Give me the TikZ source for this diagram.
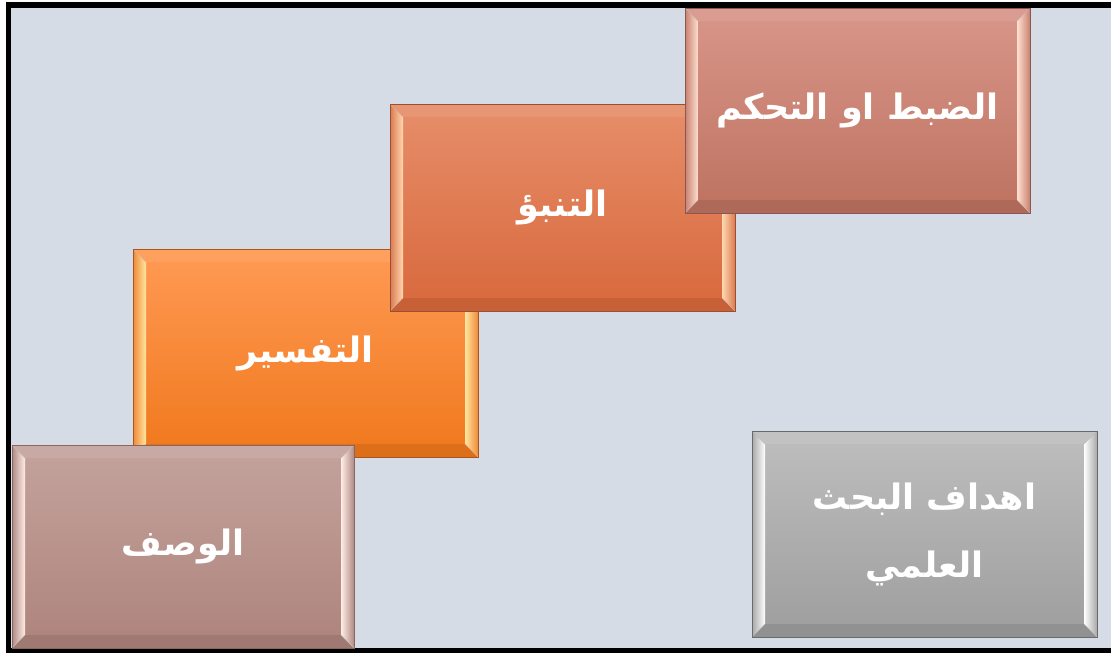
\documentclass[tikz,border=0pt]{standalone}
\usepackage{fontspec}
\newfontfamily\arabicfont[Script=Arabic]{DejaVu Sans}
\TeXXeTstate=1
\usetikzlibrary{calc}
\definecolor{bg}{HTML}{D6DCE5}
\definecolor{aTop}{HTML}{FF9A55}\definecolor{aBot}{HTML}{F0781C}\definecolor{aBrd}{HTML}{A8561E}\definecolor{aHi}{HTML}{FFE6A0}\definecolor{aSide}{HTML}{F08A38}
\definecolor{bTop}{HTML}{C4A39D}\definecolor{bBot}{HTML}{AD847C}\definecolor{bBrd}{HTML}{8A6660}\definecolor{bHi}{HTML}{FFEDE6}\definecolor{bSide}{HTML}{B08A84}
\definecolor{cTop}{HTML}{E68E6A}\definecolor{cBot}{HTML}{D8683C}\definecolor{cBrd}{HTML}{995030}\definecolor{cHi}{HTML}{FFD8B0}\definecolor{cSide}{HTML}{DC7A50}
\definecolor{dTop}{HTML}{D8968A}\definecolor{dBot}{HTML}{BE7260}\definecolor{dBrd}{HTML}{8A5850}\definecolor{dHi}{HTML}{FFE0D0}\definecolor{dSide}{HTML}{C88070}
\definecolor{eTop}{HTML}{BEBEBE}\definecolor{eBot}{HTML}{9E9E9E}\definecolor{eBrd}{HTML}{6A6A6A}\definecolor{eHi}{HTML}{FFFFFF}\definecolor{eSide}{HTML}{A8A8A8}
\tikzset{
  bevelbox/.style n args={5}{
    rectangle, inner sep=0pt, top color=#1, bottom color=#2, draw=#3, line width=1pt,
    text=white, font=\arabicfont\bfseries\fontsize{35}{68}\selectfont, align=center,
    path picture={
      \coordinate (nw) at (path picture bounding box.north west);
      \coordinate (ne) at (path picture bounding box.north east);
      \coordinate (sw) at (path picture bounding box.south west);
      \coordinate (se) at (path picture bounding box.south east);
      \coordinate (inw) at ($(nw)+(13pt,-13pt)$);
      \coordinate (ine) at ($(ne)+(-13pt,-13pt)$);
      \coordinate (isw) at ($(sw)+(13pt,13pt)$);
      \coordinate (ise) at ($(se)+(-13pt,13pt)$);
      \fill[#1!94!white] (nw) -- (ne) -- (ine) -- (inw) -- cycle;
      \fill[#2!92!black] (sw) -- (se) -- (ise) -- (isw) -- cycle;
      \shade[left color=#5, right color=#4] (nw) -- (inw) -- (isw) -- (sw) -- cycle;
      \shade[left color=#4, right color=#5] (ne) -- (ine) -- (ise) -- (se) -- cycle;
      \draw[#3!45, line width=0.4pt] (nw) -- (inw) (ne) -- (ine) (sw) -- (isw) (se) -- (ise);
    }
  }
}
\begin{document}
\begin{tikzpicture}[x=1pt,y=-1pt]
\useasboundingbox (0,0) rectangle (1111,653);
\path[clip] (0,0) rectangle (1111,653);
\fill[white] (0,0) rectangle (1111,653);
\draw[line width=5.5pt, fill=bg] (8.5,5) rectangle (1125,650.5);

\node[bevelbox={aTop}{aBot}{aBrd}{aHi}{aSide}, minimum width=345pt, minimum height=208pt]
  (tafsir) at (305.5,353) {\beginR التفسير\endR};
\node[bevelbox={bTop}{bBot}{bBrd}{bHi}{bSide}, minimum width=342pt, minimum height=203pt]
  (wasf) at (183,546.5) {\beginR الوصف\endR};
\node[bevelbox={cTop}{cBot}{cBrd}{cHi}{cSide}, minimum width=345pt, minimum height=207pt]
  (tanabbu) at (562.5,207.5) {\beginR التنبؤ\endR};
\node[bevelbox={dTop}{dBot}{dBrd}{dHi}{dSide}, minimum width=345pt, minimum height=205pt]
  (dabt) at (857.5,110.5) {\beginR الضبط او التحكم\endR};
\node[bevelbox={eTop}{eBot}{eBrd}{eHi}{eSide}, minimum width=345pt, minimum height=206pt]
  (ahdaf) at (924.5,534) {\beginR اهداف البحث\endR\\\beginR العلمي\endR};
\end{tikzpicture}
\end{document}
